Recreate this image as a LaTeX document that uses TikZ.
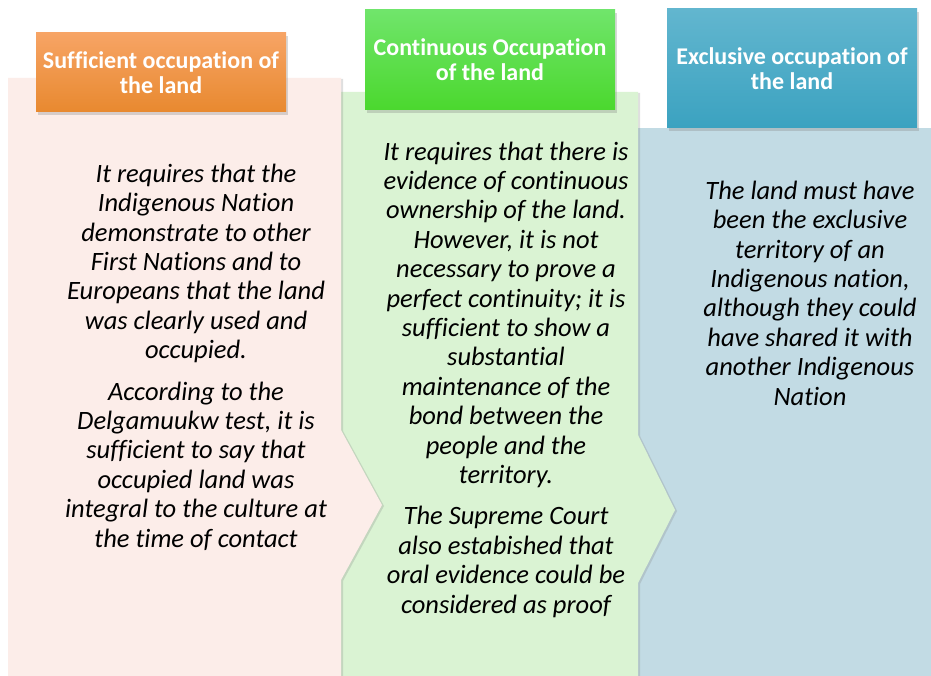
\documentclass[tikz,border=0pt]{standalone}
\usepackage{fontspec}
\setmainfont{Carlito}[Ligatures=NoCommon]
\usepackage{tikz}
\usetikzlibrary{shadows}
\definecolor{cPinkPanel}{RGB}{252,237,233}
\definecolor{cGreenPanel}{RGB}{218,243,211}
\definecolor{cBluePanel}{RGB}{194,219,228}
\definecolor{cOrangeTop}{RGB}{247,164,101}
\definecolor{cOrangeBot}{RGB}{232,137,47}
\definecolor{cGreenTop}{RGB}{112,229,107}
\definecolor{cGreenBot}{RGB}{75,216,46}
\definecolor{cBlueTop}{RGB}{98,182,207}
\definecolor{cBlueBot}{RGB}{59,162,192}
\tikzset{
	panel/.style    ={draw=none, drop shadow={shadow xshift=2pt, shadow yshift=-1pt, opacity=0.25}},
	header/.style   ={rectangle, draw=none, text=white, font=\fontsize{24}{25}\selectfont\bfseries, align=center, inner sep=0pt, drop shadow={shadow xshift=2pt, shadow yshift=-3pt, opacity=0.3}},
	bodytext/.style ={align=center, inner sep=0pt, font=\fontsize{26.5}{29.4}\selectfont\itshape},
}
\begin{document}
\begin{tikzpicture}[x=1pt, y=-1pt]
	\clip (0,0) rectangle (931,676);
	\fill[white] (0,0) rectangle (931,676);
	% panels, back to front
	\fill[panel, cBluePanel] (638,128) -- (945,128) -- (945,700) -- (638,700) -- cycle;
	\fill[panel, cGreenPanel] (341,92) -- (638,92) -- (638,435) -- (675,510) -- (638,583) -- (638,700) -- (341,700) -- cycle;
	\fill[panel, cPinkPanel] (8,78) -- (341,78) -- (341,430) -- (382,505) -- (341,580) -- (341,700) -- (8,700) -- cycle;
	% headers
	\node[header, minimum width=250pt, minimum height=79pt, top color=cOrangeTop, bottom color=cOrangeBot] (hsuff) at (161,72.5) {Sufficient occupation of\\the land};
	\node[header, minimum width=250pt, minimum height=100pt, top color=cGreenTop, bottom color=cGreenBot] (hcont) at (490,60) {Continuous Occupation\\of the land};
	\node[header, minimum width=250pt, minimum height=119pt, top color=cBlueTop, bottom color=cBlueBot] (hexcl) at (792,68.5) {Exclusive occupation of\\the land};
	% body texts
	\node[bodytext] (tsuff) at (196,357) {It requires that the\\Indigenous Nation\\demonstrate to other\\First Nations and to\\Europeans that the land\\was clearly used and\\occupied.\\[12pt]According to the\\Delgamuukw test, it is\\sufficient to say that\\occupied land was\\integral to the culture at\\the time of contact};
	\node[bodytext] (tcont) at (506,379.5) {It requires that there is\\evidence of continuous\\ownership of the land.\\However, it is not\\necessary to prove a\\perfect continuity; it is\\sufficient to show a\\substantial\\maintenance of the\\bond between the\\people and the\\territory.\\[12pt]The Supreme Court\\also estabished that\\oral evidence could be\\considered as proof};
	\node[bodytext] (texcl) at (810,293) {The land must have\\been the exclusive\\territory of an\\Indigenous nation,\\although they could\\have shared it with\\another Indigenous\\Nation};
\end{tikzpicture}
\end{document}
